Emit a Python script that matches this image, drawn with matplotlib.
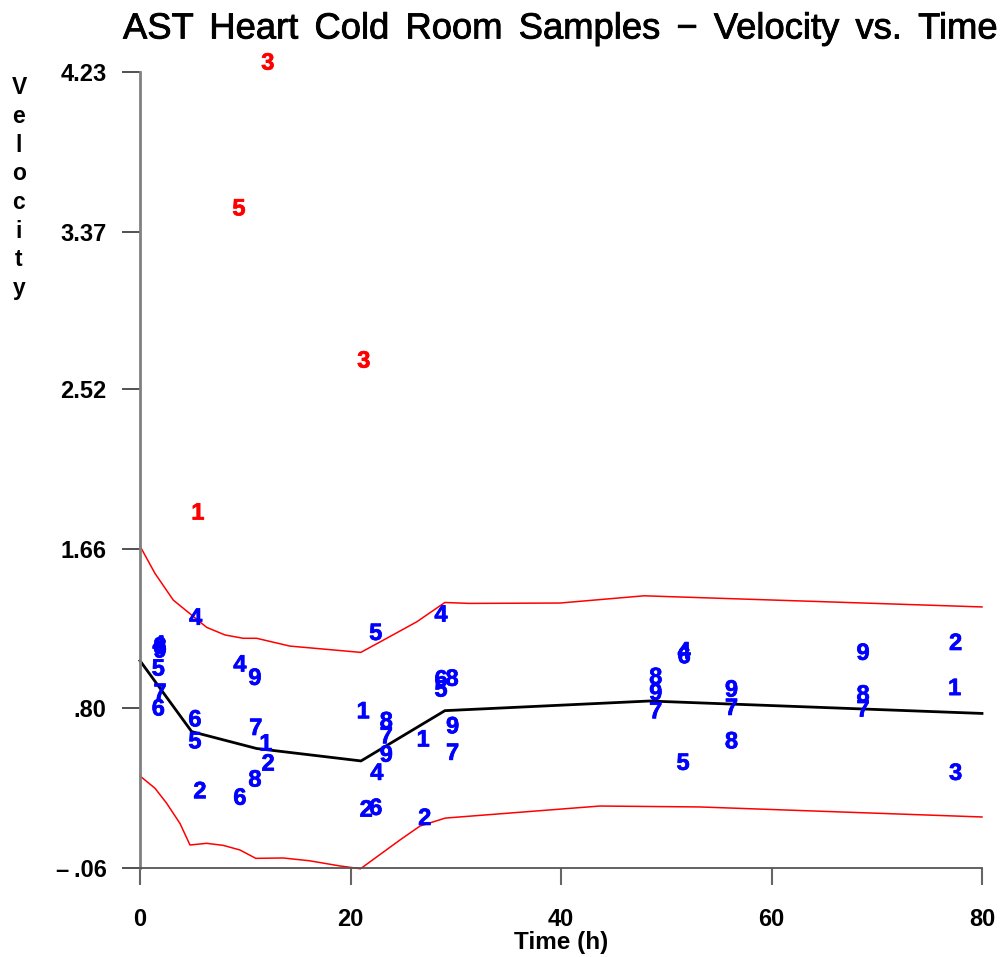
import numpy as np
import matplotlib
matplotlib.use("Agg")
import matplotlib.pyplot as plt
import matplotlib.patheffects as pe

# ---------------- data ----------------
labels = ['4', '8', '9', '5', '7', '6',
          '4', '6', '5', '2', '1',
          '5', '4', '6',
          '9', '7', '8',
          '3', '1', '2',
          '3', '1', '2',
          '5', '4', '6',
          '8', '7', '9',
          '1', '2',
          '4', '6', '5',
          '8', '9', '7',
          '8', '9', '7',
          '4', '6', '5',
          '9', '7', '8',
          '9', '8', '7',
          '2', '1', '3']
times = [1.8, 1.9, 1.9, 1.74, 1.9, 1.74,
         5.29, 5.22, 5.22, 5.7, 5.5,
         9.4, 9.49, 9.49,
         10.92, 11.0, 10.92,
         12.15, 11.96, 12.18,
         21.27, 21.2, 21.5,
         22.4, 22.5, 22.4,
         23.4, 23.4, 23.4,
         26.9, 27.06,
         28.6, 28.6, 28.6,
         29.65, 29.7, 29.7,
         49.0, 49.0, 49.0,
         51.7, 51.7, 51.6,
         56.2, 56.2, 56.2,
         68.7, 68.7, 68.7,
         77.5, 77.4, 77.5]
velocity = [1.14, 1.13, 1.11, 1.012, 0.881, 0.797,
            1.286, 0.738, 0.620, 0.351, 1.853,
            3.492, 1.034, 0.316,
            0.962, 0.692, 0.414,
            4.278, 0.608, 0.500,
            2.672, 0.782, 0.252,
            1.204, 0.450, 0.261,
            0.728, 0.647, 0.548,
            0.630, 0.207,
            1.303, 0.953, 0.899,
            0.957, 0.701, 0.558,
            0.966, 0.881, 0.782,
            1.105, 1.079, 0.504,
            0.899, 0.800, 0.620,
            1.097, 0.872, 0.791,
            1.150, 0.907, 0.450]
# 1 = outlier (drawn red), 0 = regular (drawn blue)
outlier = [0, 0, 0, 0, 0, 0,
           0, 0, 0, 0, 1,
           1, 0, 0,
           0, 0, 0,
           1, 0, 0,
           1, 0, 0,
           0, 0, 0,
           0, 0, 0,
           0, 0,
           0, 0, 0,
           0, 0, 0,
           0, 0, 0,
           0, 0, 0,
           0, 0, 0,
           0, 0, 0,
           0, 0, 0]

mean_t = [0, 4.91, 11.08, 21.0, 28.97, 48.4, 80]
mean_v = [1.057, 0.675, 0.584, 0.517, 0.788, 0.840, 0.773]

upper_t = [0, 1.42, 3.16, 6.33, 8.07, 9.81, 11.08, 14.24, 20.98, 23.7, 26.3,
           28.97, 31.3, 39.9, 47.9, 80]
upper_v = [1.675, 1.528, 1.384, 1.237, 1.196, 1.178, 1.178, 1.136, 1.102, 1.186,
           1.267, 1.371, 1.366, 1.368, 1.407, 1.347]

lower_t = [0, 1.42, 2.53, 3.8, 4.75, 6.33, 7.91, 9.5, 11.0, 13.6, 16.1, 19.0,
           20.95, 24.7, 26.6, 29.0, 43.7, 53.2, 80]
lower_v = [0.436, 0.370, 0.289, 0.180, 0.064, 0.073, 0.062, 0.037, -0.008, -0.006,
           -0.021, -0.049, -0.064, 0.091, 0.166, 0.209, 0.274, 0.269, 0.215]

yticks = [-0.06, 0.80, 1.66, 2.52, 3.37, 4.23]
ytick_labels = ['\u2013\u2009.06', '.80', '1.66', '2.52', '3.37', '4.23']
xticks = [0, 20, 40, 60, 80]

title = 'AST Heart Cold Room Samples \u2212 Velocity vs. Time'
xlabel = 'Time (h)'
ylabel = 'Velocity'

# ---------------- figure ----------------
FONT = 'Liberation Sans'
FAM = [FONT, 'DejaVu Sans']
W, H = 1003, 957
fig = plt.figure(figsize=(W / 100, H / 100), dpi=100)
ax = fig.add_axes([140 / W, 1 - 868 / H, (982 - 140) / W, (868 - 72) / H])

ax.set_xlim(0, 80)
ax.set_ylim(-0.06, 4.23)

ax.plot(upper_t, upper_v, color='#ff0000', lw=1.1, clip_on=False)
ax.plot(lower_t, lower_v, color='#ff0000', lw=1.1, clip_on=False)
ax.plot(mean_t, mean_v, color='black', lw=2.0, clip_on=False)

for lab, t, v, o in zip(labels, times, velocity, outlier):
    col = '#ff0000' if o else '#0000ff'
    ax.text(t, v, lab, color=col, fontsize=17, fontweight='bold', family=FONT,
            ha='center', va='center', clip_on=False,
            path_effects=[pe.withStroke(linewidth=0.5, foreground=col)])

for s in ['top', 'right']:
    ax.spines[s].set_visible(False)
ax.spines['left'].set_color('#808080')
ax.spines['left'].set_linewidth(2)
ax.spines['bottom'].set_color('#555555')
ax.spines['bottom'].set_linewidth(1.3)

ax.set_yticks(yticks)
ax.set_yticklabels(ytick_labels)
ax.set_xticks(xticks)
ax.set_xticklabels([str(x) for x in xticks])
ax.tick_params(axis='y', length=13, width=1.2, color='#333333', pad=11)
ax.tick_params(axis='x', length=12.5, width=1.5, color='#666666', pad=16)
for lbl in ax.get_xticklabels() + ax.get_yticklabels():
    lbl.set_fontfamily(FAM)
    lbl.set_fontweight('bold')
    lbl.set_fontsize(17)

# slightly widened word gaps, as in the reference title
title_txt = title.replace(' ', ' \u2006')
fig.text(560 / W, 1 - 29 / H, title_txt, ha='center', va='center',
         fontsize=26.2, family=FAM,
         path_effects=[pe.withStroke(linewidth=0.6, foreground='black')])
fig.text(561 / W, 1 - 943 / H, xlabel, ha='center', va='center',
         fontsize=17.5, fontweight='bold', family=FONT)
for i, ch in enumerate(ylabel):
    y = 88 + i * 28.6
    fig.text(19 / W, 1 - y / H, ch, ha='center', va='center',
             fontsize=16.5, fontweight='bold', family=FONT)

fig.savefig('out.png', dpi=100)
